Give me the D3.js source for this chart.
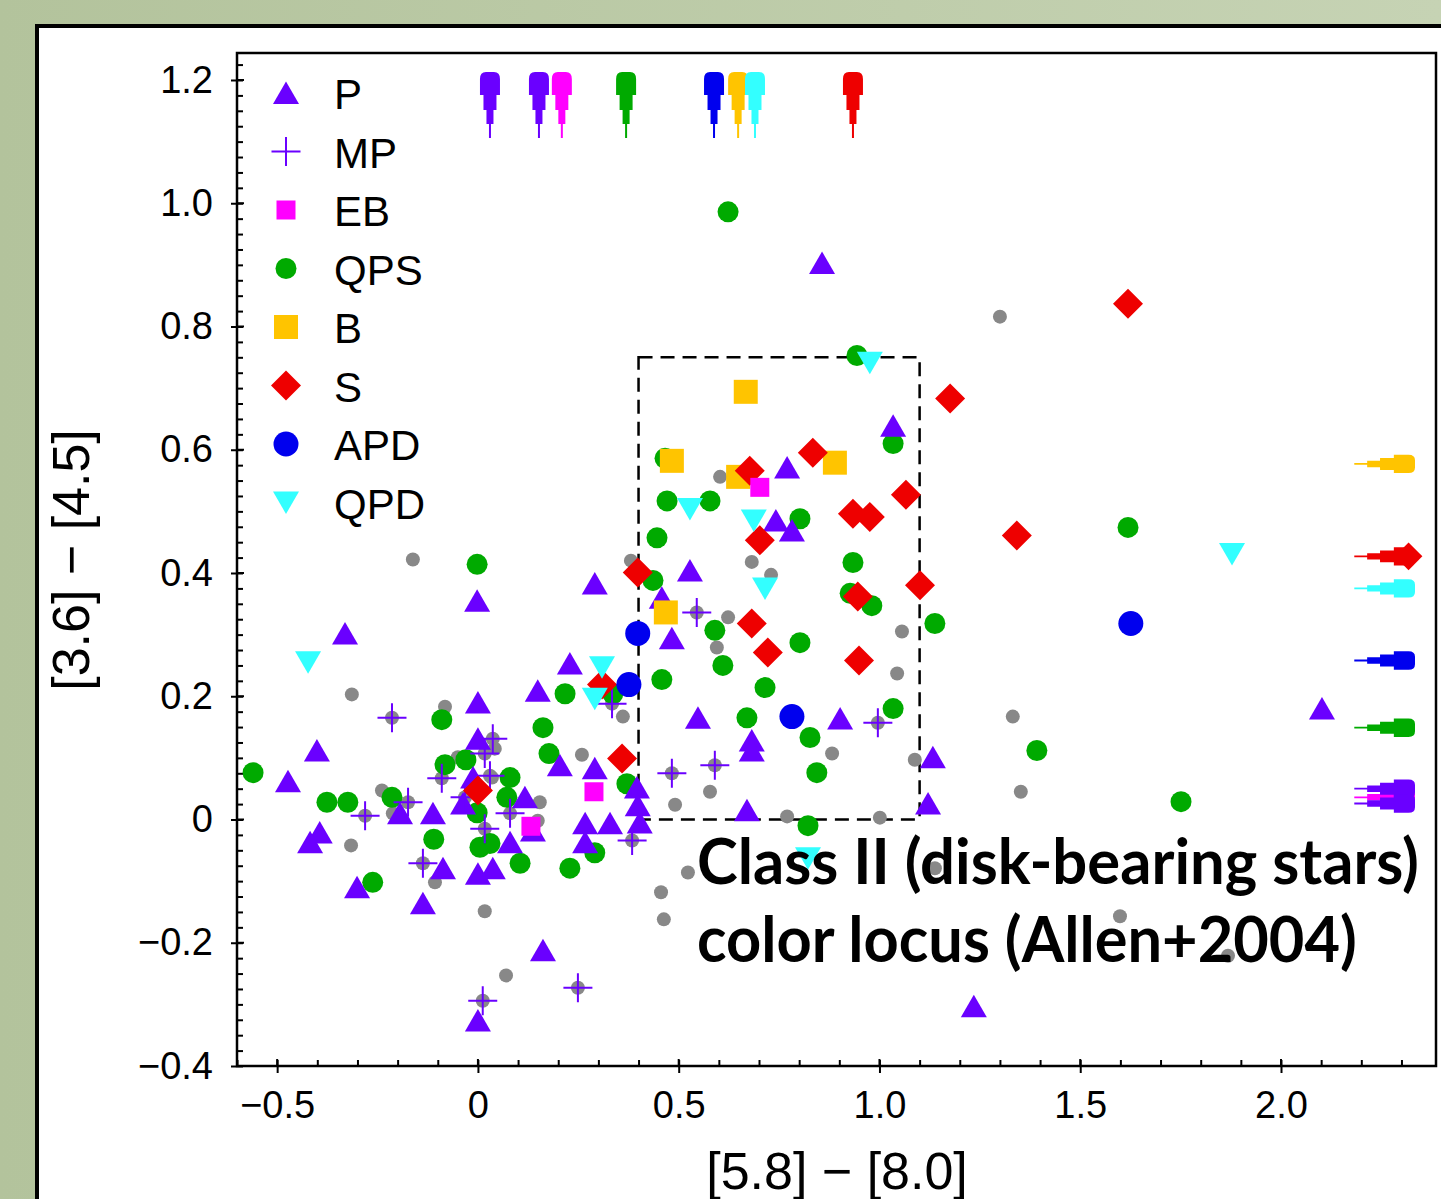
<!DOCTYPE html>
<html>
<head>
<meta charset="utf-8">
<script src="https://cdn.jsdelivr.net/npm/d3@7"></script>
<style>
  body { margin: 0; background: linear-gradient(90deg, #b3c39c, #c6d3b4); }
  svg { display: block; }
</style>
</head>
<body>
<script>
var width = 1441;
var height = 1199;

// points: [ [5.8]-[8.0], [3.6]-[4.5] ]
var grayPts = [[1.300,0.816],[-0.162,0.422],[-0.314,0.203],[-0.082,0.183],[0.361,0.167],[0.259,0.105],
  [0.381,0.420],[0.603,0.556],[0.682,0.418],[0.730,0.397],[0.623,0.328],[0.595,0.279],[1.056,0.305],
  [1.044,0.237],[0.882,0.107],[1.088,0.097],[0.578,0.045],[0.491,0.024],[0.770,0.005],[1.001,0.003],
  [1.332,0.167],[1.352,0.045],[1.599,-0.157],[1.868,-0.221],[1.138,-0.079],[0.456,-0.118],[0.463,-0.162],
  [0.523,-0.086],[0.017,-0.149],[0.070,-0.253],[-0.316,-0.042],[-0.107,-0.102],[-0.239,0.047],
  [-0.212,0.010],[0.154,0.028],[0.149,-0.002],[-0.050,0.101],[0.042,0.115],[0.035,0.068]];

var pPts = [[0.857,0.903],[1.034,0.639],[0.770,0.571],[0.742,0.485],[0.782,0.469],[0.528,0.404],
  [0.291,0.383],[-0.002,0.355],[-0.331,0.302],[0.458,0.360],[0.483,0.294],[0.229,0.253],[0.149,0.209],
  [0.000,0.190],[-0.401,0.112],[-0.473,0.062],[0.000,0.131],[0.204,0.088],[0.291,0.083],[0.117,0.036],
  [-0.194,0.010],[-0.112,0.010],[-0.037,0.026],[-0.012,0.068],[-0.394,-0.021],[-0.418,-0.037],
  [-0.301,-0.110],[-0.137,-0.136],[-0.087,-0.079],[0.000,-0.088],[0.037,-0.079],[0.080,-0.037],
  [0.137,-0.018],[0.267,-0.006],[0.329,-0.006],[0.267,-0.037],[0.396,0.052],[0.398,0.023],
  [0.403,-0.005],[0.162,-0.212],[0.000,-0.326],[1.133,0.101],[1.121,0.026],[2.102,0.180],
  [1.235,-0.303],[0.902,0.164],[0.548,0.165],[0.682,0.128],[0.682,0.112],[0.670,0.015]];

var mpPts = [[-0.214,0.165],[-0.090,0.067],[0.037,0.131],[0.017,0.107],[0.030,0.071],[0.334,0.188],
  [-0.281,0.006],[-0.174,0.028],[-0.137,-0.071],[0.012,-0.294],[0.249,-0.273],[0.384,-0.034],
  [0.080,0.010],[0.017,-0.015],[0.545,0.336],[0.483,0.075],[0.590,0.088],[0.996,0.157],[-0.032,0.036]];

var ebPts = [[0.702,0.539],[0.289,0.045],[0.132,-0.011]];

var qpsPts = [[0.623,0.986],[0.944,0.753],[1.034,0.610],[1.619,0.474],[1.392,0.112],[1.751,0.029],
  [1.138,0.318],[0.934,0.417],[0.981,0.347],[0.927,0.367],[1.034,0.180],[0.822,-0.010],[0.844,0.076],
  [0.827,0.133],[0.802,0.287],[0.715,0.214],[0.670,0.165],[0.610,0.250],[0.590,0.307],[0.578,0.517],
  [0.471,0.517],[0.446,0.457],[0.802,0.488],[0.466,0.586],[0.436,0.388],[0.458,0.227],[0.371,0.058],
  [0.291,-0.054],[0.336,0.204],[0.217,0.204],[0.162,0.149],[0.177,0.107],[-0.002,0.414],[-0.090,0.162],
  [-0.030,0.097],[-0.082,0.089],[0.080,0.068],[0.072,0.036],[-0.560,0.076],[-0.376,0.028],
  [-0.324,0.028],[-0.214,0.036],[-0.262,-0.102],[-0.110,-0.032],[-0.002,0.011],[0.005,-0.045],
  [0.030,-0.039],[0.105,-0.071],[0.229,-0.079]];

var bPts = [[0.667,0.694],[0.483,0.582],[0.648,0.556],[0.889,0.579],[0.468,0.336]];

var sPts = [[1.619,0.837],[1.176,0.683],[1.066,0.527],[0.834,0.595],[0.677,0.566],[0.702,0.453],
  [0.934,0.496],[0.976,0.491],[1.342,0.461],[1.101,0.380],[0.946,0.362],[0.949,0.258],[0.682,0.318],
  [0.722,0.271],[0.398,0.401],[0.309,0.219],[0.359,0.099],[0.000,0.047]];

var apdPts = [[1.626,0.318],[0.782,0.167],[0.398,0.302],[0.376,0.219]];

var qpdPts = [[0.976,0.741],[1.878,0.431],[0.528,0.504],[0.687,0.485],[0.715,0.375],[-0.423,0.255],
  [0.309,0.247],[0.291,0.196],[0.822,-0.063]];

// sources beyond the plot range
var topArrowX   = [0.030, 0.152, 0.209, 0.369, 0.588, 0.648, 0.690, 0.934];
var topArrowCls = ["P", "P", "EB", "QPS", "APD", "B", "QPD", "S"];
var rightArrowY   = [0.577, 0.427, 0.375, 0.258, 0.149, 0.036, 0.050, 0.026];
var rightArrowCls = ["B", "S", "QPD", "APD", "QPS", "EB", "P", "P"];

var legendNames = ["P", "MP", "EB", "QPS", "B", "S", "APD", "QPD"];
var xTicks = [-0.5, 0, 0.5, 1.0, 1.5, 2.0];
var xTickLabels = ["\u22120.5", "0", "0.5", "1.0", "1.5", "2.0"];
var yTicks = [-0.4, -0.2, 0, 0.2, 0.4, 0.6, 0.8, 1.0, 1.2];
var yTickLabels = ["\u22120.4", "\u22120.2", "0", "0.2", "0.4", "0.6", "0.8", "1.0", "1.2"];

var colors = { P: "#6a00ff", MP: "#6a00ff", EB: "#ff00ff", QPS: "#00aa00", B: "#ffc400",
               S: "#ee0000", APD: "#0000ee", QPD: "#33ffff", gray: "#888888" };

function markerPath(cls) {
  if (cls == "P") return "M0,-11.5L13,11L-13,11Z";
  if (cls == "QPD") return "M0,11.5L13,-11L-13,-11Z";
  if (cls == "EB") return "M-9.5,-9.5h19v19h-19Z";
  if (cls == "B") return "M-12,-12h24v24h-24Z";
  if (cls == "S") return "M0,-15L15,0L0,15L-15,0Z";
  if (cls == "MP") return "M-14.5,0H14.5M0,-14.5V14.5";
  if (cls == "QPS") return d3.symbol().type(d3.symbolCircle).size(Math.PI * 10.5 * 10.5)();
  if (cls == "APD") return d3.symbol().type(d3.symbolCircle).size(Math.PI * 12.5 * 12.5)();
  return d3.symbol().type(d3.symbolCircle).size(Math.PI * 7 * 7)();
}

var svg = d3.select("body")
  .append("svg")
  .attr("width", width)
  .attr("height", height);

// white slide panel
svg.append("rect")
  .attr("x", 37).attr("y", 26)
  .attr("width", 1500).attr("height", 1300)
  .style("fill", "white")
  .style("stroke", "black")
  .style("stroke-width", 4);

var x = d3.scaleLinear().domain([-0.6, 2.386]).range([237, 1436]);
var y = d3.scaleLinear().domain([-0.4, 1.2438]).range([1066, 53]);

var font = "'Liberation Sans', Arial, sans-serif";

// axes: major ticks stick out, all ticks also go inward
var yMinor = d3.range(0, 66).map(function(i) { return -0.4 + i * 0.025; });
var xMinor = d3.range(0, 30).map(function(i) { return -0.6 + i * 0.1; });

var gyIn = svg.append("g").attr("transform", "translate(237,0)")
  .call(d3.axisLeft(y).tickValues(yMinor).tickSize(-6).tickFormat(""));
var gyOut = svg.append("g").attr("transform", "translate(237,0)")
  .call(d3.axisLeft(y).tickValues(yTicks).tickSize(6).tickPadding(18)
    .tickFormat(function(d, i) { return yTickLabels[i]; }));
var gxIn = svg.append("g").attr("transform", "translate(0,1066)")
  .call(d3.axisBottom(x).tickValues(xMinor).tickSize(-6).tickFormat(""));
var gxOut = svg.append("g").attr("transform", "translate(0,1066)")
  .call(d3.axisBottom(x).tickValues(xTicks).tickSize(7).tickPadding(18)
    .tickFormat(function(d, i) { return xTickLabels[i]; }));

// major ticks also inward
svg.append("g").selectAll("line").data(yTicks).enter().append("line")
  .attr("x1", 237).attr("x2", 244).attr("y1", function(d) { return y(d); }).attr("y2", function(d) { return y(d); })
  .style("stroke", "black").style("stroke-width", 2);
svg.append("g").selectAll("line").data(xTicks).enter().append("line")
  .attr("y1", 1066).attr("y2", 1059).attr("x1", function(d) { return x(d); }).attr("x2", function(d) { return x(d); })
  .style("stroke", "black").style("stroke-width", 2);

[gyIn, gyOut, gxIn, gxOut].forEach(function(g) {
  g.select(".domain").remove();
  g.selectAll("line").style("stroke", "black").style("stroke-width", 2);
  g.selectAll("text").style("font-family", font).style("font-size", "38px").style("fill", "black");
});

// frame
svg.append("rect")
  .attr("x", 237).attr("y", 53)
  .attr("width", 1436 - 237).attr("height", 1066 - 53)
  .style("fill", "none").style("stroke", "black").style("stroke-width", 2.5);

// axis titles
svg.append("text")
  .attr("x", 837).attr("y", 1189)
  .attr("text-anchor", "middle")
  .style("font-family", font).style("font-size", "52px")
  .text("[5.8] \u2212 [8.0]");
svg.append("text")
  .attr("transform", "translate(89,560) rotate(-90)")
  .attr("text-anchor", "middle")
  .style("font-family", font).style("font-size", "52px")
  .text("[3.6] \u2212 [4.5]");

// Class II locus box (Allen+2004)
svg.append("rect")
  .attr("x", x(0.4)).attr("y", y(0.75))
  .attr("width", x(1.1) - x(0.4)).attr("height", y(0) - y(0.75))
  .style("fill", "none").style("stroke", "black").style("stroke-width", 2.5)
  .style("stroke-dasharray", "14,8");

var plot = svg.append("g");

function drawPts(data, cls, colorKey) {
  plot.append("g").selectAll("path")
    .data(data)
    .enter()
    .append("path")
    .attr("transform", function(d) { return "translate(" + x(d[0]) + "," + y(d[1]) + ")"; })
    .attr("d", markerPath(cls))
    .style("fill", cls == "MP" ? "none" : colors[colorKey || cls])
    .style("stroke", cls == "MP" ? colors.MP : "none")
    .style("stroke-width", 2);
}

drawPts(grayPts, "gray", "gray");
drawPts(mpPts, "gray", "gray");
drawPts(qpsPts, "QPS");
drawPts(pPts, "P");
drawPts(mpPts, "MP");
drawPts(bPts, "B");
drawPts(sPts, "S");
drawPts(ebPts, "EB");
drawPts(apdPts, "APD");
drawPts(qpdPts, "QPD");

// arrows for values off the plot (tip at 0, pointing up)
var arrowPath = "M-1,66V52H-3.5V38H-6.5V23H-10V7Q-10,0 -4,0H4Q10,0 10,7V23H6.5V38H3.5V52H1V66Z";

svg.append("g").selectAll("path")
  .data(topArrowX)
  .enter()
  .append("path")
  .attr("transform", function(d) { return "translate(" + x(d) + "," + (y(1.2438) + 19) + ")"; })
  .attr("d", arrowPath)
  .style("fill", function(d, i) { return colors[topArrowCls[i]]; });

var ra = svg.append("g").selectAll("g")
  .data(rightArrowY)
  .enter()
  .append("g")
  .attr("transform", function(d) { return "translate(" + (x(2.386) - 21) + "," + y(d) + ") rotate(90) scale(0.92)"; });
ra.append("path")
  .attr("d", arrowPath)
  .style("fill", function(d, i) { return colors[rightArrowCls[i]]; });
ra.filter(function(d, i) { return rightArrowCls[i] == "S"; })
  .append("path")
  .attr("transform", "translate(0,7)")
  .attr("d", markerPath("S"))
  .style("fill", colors.S);

// legend
var leg = svg.append("g").selectAll("g")
  .data(legendNames)
  .enter()
  .append("g")
  .attr("transform", function(d, i) { return "translate(286," + (93 + i * 58.5) + ")"; });
leg.append("path")
  .attr("d", function(d) { return markerPath(d); })
  .style("fill", function(d) { return d == "MP" ? "none" : colors[d]; })
  .style("stroke", function(d) { return d == "MP" ? colors.MP : "none"; })
  .style("stroke-width", 2);
leg.append("text")
  .attr("x", 48).attr("y", 16)
  .style("font-family", font).style("font-size", "42px")
  .text(function(d) { return d; });

// annotation, squeezed horizontally to the slide's narrow bold font
var note = ["Class II (disk-bearing stars)", "color locus (Allen+2004)"];
var noteLen = [722, 660];
svg.append("g").selectAll("text")
  .data(note)
  .enter()
  .append("text")
  .style("font-family", "Lato, 'Open Sans', sans-serif")
  .style("font-weight", "bold")
  .style("font-size", "64px")
  .style("fill", "black")
  .text(function(d) { return d; })
  .attr("transform", function(d, i) {
    var sx = noteLen[i] / this.getComputedTextLength();
    return "translate(697," + (884 + i * 78) + ") scale(" + sx + ",1)";
  });
</script>
</body>
</html>
